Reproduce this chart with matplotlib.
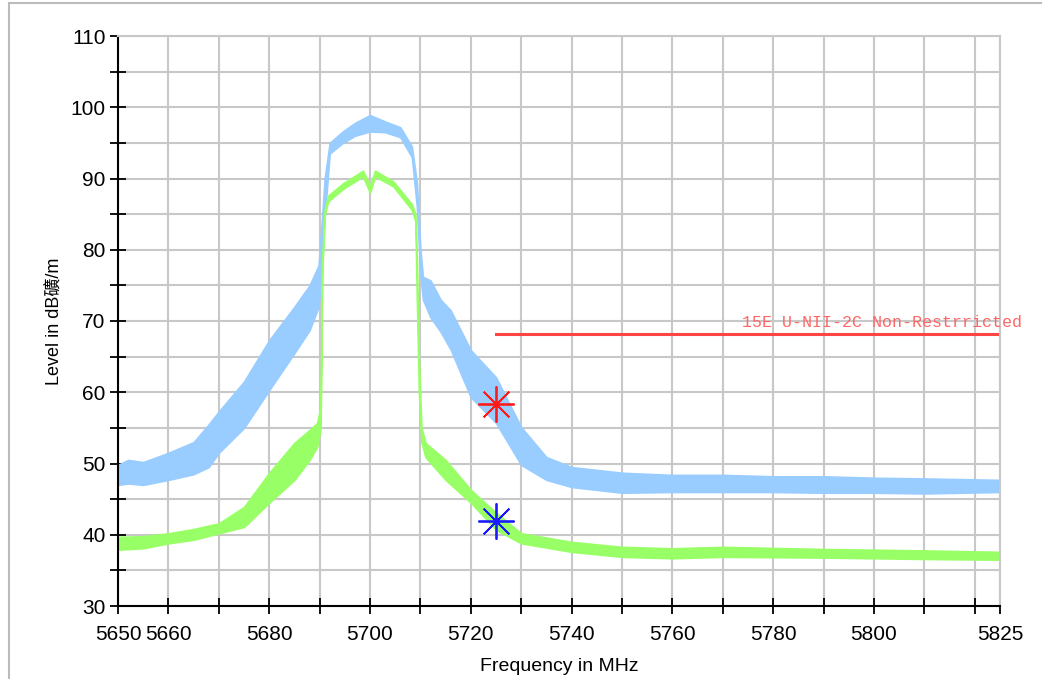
import numpy as np
import matplotlib.pyplot as plt
from matplotlib.patches import Rectangle

peak_freq = [5650, 5652, 5655, 5660, 5665, 5668, 5670, 5675, 5680, 5685, 5688, 5689.8,
             5690.5, 5691, 5692, 5694.6, 5697, 5700, 5703, 5706, 5708.3, 5709.3, 5710,
             5710.5, 5712, 5714, 5716, 5720, 5725, 5730, 5735, 5740, 5750, 5760,
             5770, 5780, 5790, 5800, 5810, 5825]
peak_hi = [49.8, 50.5, 50.2, 51.5, 53.0, 55.5, 57.3, 61.5, 67.3, 72.0, 75.0, 77.8,
           84.6, 90.0, 95.0, 96.6, 97.8, 98.9, 98.0, 97.2, 94.5, 89.4, 80.0,
           76.2, 75.7, 73.0, 71.5, 65.9, 62.1, 55.1, 50.9, 49.5, 48.7, 48.4,
           48.4, 48.2, 48.2, 48.0, 47.9, 47.7]
peak_lo = [47.0, 47.2, 47.0, 47.7, 48.5, 49.5, 51.5, 55.0, 60.3, 65.5, 68.7, 72.0,
           78.0, 84.5, 93.5, 95.0, 96.0, 96.6, 96.5, 95.8, 93.0, 86.0, 76.5,
           73.0, 70.5, 68.5, 66.0, 59.3, 55.7, 49.8, 47.7, 46.7, 45.9, 46.0,
           46.0, 46.0, 45.9, 45.9, 45.8, 46.0]

avg_freq = [5650, 5655, 5660, 5665, 5670, 5675, 5680, 5685, 5688, 5689.5, 5690.2,
            5690.5, 5691, 5691.7, 5694.6, 5698.6, 5700, 5701, 5704.6, 5708.3, 5709,
            5709.3, 5709.7, 5710.2, 5711, 5715, 5720, 5725, 5730, 5740, 5750, 5760,
            5770, 5790, 5810, 5825]
avg_hi = [39.7, 39.8, 40.2, 40.8, 41.6, 43.9, 48.7, 52.9, 54.7, 55.7, 58.0,
          78.1, 85.6, 87.6, 89.3, 91.1, 89.0, 91.1, 89.6, 86.4, 85.0,
          78.6, 64.5, 55.1, 52.9, 50.5, 46.3, 43.1, 40.2, 39.0, 38.3, 38.1,
          38.3, 38.0, 37.8, 37.6]
avg_lo = [37.9, 38.1, 38.8, 39.3, 40.2, 41.1, 44.5, 47.7, 50.5, 52.3, 55.0,
          76.5, 84.8, 86.8, 88.5, 90.3, 88.0, 90.3, 88.9, 85.6, 84.0,
          73.0, 60.0, 53.0, 50.9, 47.7, 44.5, 40.7, 38.8, 37.6, 36.9, 36.7,
          36.9, 36.8, 36.6, 36.5]

limit_freq = [5725, 5825]
limit_level = [68.2, 68.2]
limit_text = '15E U-NII-2C Non-Restrricted'

marker_freq = [5725, 5725]
marker_level = [58.3, 42.0]
marker_color = ['#ff1a1a', '#1a1aff']

x_ticks = np.arange(5650, 5821, 10).tolist() + [5825]
x_labels = ['5650', '5660', '', '5680', '', '5700', '', '5720', '', '5740', '',
            '5760', '', '5780', '', '5800', '', '', '5825']

plt.rcParams['font.family'] = ['Liberation Sans', 'Noto Sans CJK SC']

fig = plt.figure(figsize=(10.42, 6.79), dpi=100)
ax = fig.add_axes([118 / 1042, 1 - 606 / 679, 882 / 1042, 570 / 679])

# grey frame round the whole picture (cut off at right and bottom)
fig.patches.append(Rectangle((9 / 1042, -0.05), 1.2, 1 - 3 / 679 + 0.05,
                             transform=fig.transFigure, fill=False,
                             edgecolor='#bbbbbb', linewidth=1.5))

ax.fill_between(peak_freq, peak_lo, peak_hi, color='#99ccff', linewidth=1.2,
                edgecolor='#99ccff')
ax.fill_between(avg_freq, avg_lo, avg_hi, color='#99ff66', linewidth=1.2,
                edgecolor='#99ff66')

ax.plot(limit_freq, limit_level, color='#ff4444', linewidth=2.2)
ax.text(5829.4, 68.7, limit_text, family=['Liberation Mono', 'DejaVu Sans Mono'],
        fontsize=12, color='#ff6666', ha='right', va='bottom', clip_on=False)

for f, lv, c in zip(marker_freq, marker_level, marker_color):
    ax.plot(f, lv, marker=(8, 2, 0), markersize=26, color=c, mew=1.3)

ax.set_xlim(5650, 5825)
ax.set_ylim(30, 110)
ax.set_xticks(x_ticks)
ax.set_xticklabels(x_labels)
ax.set_yticks(np.arange(30, 111, 5))
ax.set_yticklabels([str(v) if v % 10 == 0 else '' for v in range(30, 111, 5)])
ax.tick_params(direction='inout', length=12, width=1.3, labelsize=15)
ax.tick_params(axis='x', pad=8)
ax.tick_params(axis='y', pad=3)
ax.grid(True, color='#c8c8c8', linewidth=1.5)
ax.set_axisbelow(True)

for s in ['top', 'right']:
    ax.spines[s].set_color('#c8c8c8')
    ax.spines[s].set_linewidth(1.5)
for s in ['left', 'bottom']:
    ax.spines[s].set_linewidth(1.5)

ax.set_xlabel('Frequency in MHz', fontsize=14, labelpad=10)
ax.set_ylabel('Level in dB礦/m', fontsize=13, labelpad=6)

fig.savefig('out.png', dpi=100)
